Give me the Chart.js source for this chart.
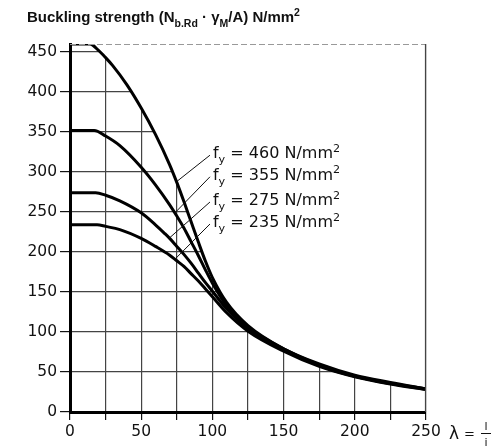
<!DOCTYPE html>
<html>
<head>
<meta charset="utf-8">
<script src="https://cdn.jsdelivr.net/npm/chart.js@4.4.0/dist/chart.umd.min.js"></script>
<style>
  html, body { margin: 0; padding: 0; background: #fff; }
</style>
</head>
<body>
<canvas id="chart" width="496" height="447"></canvas>
<script>
// Values: slenderness lambda -> buckling strength (N/mm2)
const lam460 = [0, 14, 20, 25, 30, 40, 50, 60, 70, 75, 80, 85, 90, 95, 100, 110, 125, 150, 175, 200, 225, 250];
const str460 = [460, 460, 452, 443, 433, 409, 380, 347, 309, 287, 263, 238, 213, 189, 168, 137, 108, 79, 60, 46, 37, 29];

const lam355 = [0, 17, 25, 35, 50, 60, 70, 75, 80, 85, 90, 95, 100, 110, 125, 150, 175, 200, 225, 250];
const str355 = [352, 352, 345, 333, 306, 284, 259, 245, 230, 213, 196, 178, 161, 133, 106, 79, 59, 45, 36, 29];

const lam275 = [0, 18, 25, 35, 50, 60, 66, 70, 75, 80, 85, 90, 95, 100, 110, 125, 150, 175, 200, 225, 250];
const str275 = [274, 274, 271, 264, 249, 234, 224, 217, 207, 197, 186, 174, 162, 151, 129, 104, 77.5, 58, 44.5, 35.5, 28.5];

const lam235 = [0, 19, 25, 35, 50, 60, 70, 75, 80, 85, 90, 95, 100, 110, 125, 150, 175, 200, 225, 250];
const str235 = [234, 234, 232, 228, 217, 207, 196, 189, 182, 173, 164, 154, 144, 124, 101, 76, 57, 44, 35, 28];

const steelGrades = ["460", "355", "275", "235"];
const xTicks = [0, 25, 50, 75, 100, 125, 150, 175, 200, 225, 250];
const yTicks = [0, 50, 100, 150, 200, 250, 300, 350, 400, 450];

// leader lines for the fy labels: [lambda, strength] start (at text) and end (on curve)
const leaderFrom = [[98.3, 321], [98.3, 294], [98.3, 262.5], [98.3, 235]];
const leaderTo = [[74.9, 288], [73.7, 249], [69.5, 217], [73.7, 191]];

const FONT = "'DejaVu Sans', sans-serif";
const TITLE_FONT = "'Liberation Sans', Arial, sans-serif";

function pts(xs, ys) {
  return xs.map((x, i) => ({ x: x, y: ys[i] }));
}

function curve(label, xs, ys, extra) {
  return Object.assign({
    label: label,
    data: pts(xs, ys),
    borderColor: "#000",
    borderWidth: 3,
    pointRadius: 0,
    cubicInterpolationMode: "monotone",
    fill: false
  }, extra || {});
}

// draw text with sub/superscript parts: [text, mode] mode: 0 normal, 1 sub, 2 sup
function drawRich(ctx, parts, x, y, size, weight, family) {
  parts.forEach(p => {
    let s = size, dy = 0;
    if (p[1] === 1) { s = size * 0.7; dy = size * 0.3; }
    if (p[1] === 2) { s = size * 0.7; dy = -size * 0.4; }
    ctx.font = (weight || "normal") + " " + s + "px " + (family || FONT);
    ctx.fillText(p[0], x, y + dy);
    x += ctx.measureText(p[0]).width;
  });
}

const extras = {
  id: "extras",
  afterDatasetsDraw(chart) {
    const ctx = chart.ctx, xs = chart.scales.x, ys = chart.scales.y;
    const a = chart.chartArea;
    ctx.save();
    // top dashed border and right grid line (covered by the white fill)
    ctx.strokeStyle = "#999";
    ctx.lineWidth = 1;
    ctx.setLineDash([6, 3]);
    ctx.beginPath();
    ctx.moveTo(a.left, a.top + 0.5);
    ctx.lineTo(a.right, a.top + 0.5);
    ctx.stroke();
    ctx.setLineDash([]);
    ctx.strokeStyle = "#444";
    ctx.lineWidth = 1.2;
    ctx.beginPath();
    ctx.moveTo(a.right - 0.5, a.top);
    ctx.lineTo(a.right - 0.5, a.bottom);
    ctx.stroke();

    // leader lines
    ctx.strokeStyle = "#111";
    ctx.lineWidth = 1;
    leaderFrom.forEach((f, i) => {
      const t = leaderTo[i];
      ctx.beginPath();
      ctx.moveTo(xs.getPixelForValue(f[0]), ys.getPixelForValue(f[1]));
      ctx.lineTo(xs.getPixelForValue(t[0]), ys.getPixelForValue(t[1]));
      ctx.stroke();
    });

    // fy labels
    ctx.fillStyle = "#111";
    ctx.textBaseline = "alphabetic";
    ctx.textAlign = "left";
    steelGrades.forEach((g, i) => {
      const f = leaderFrom[i];
      const px = xs.getPixelForValue(f[0]) + 3;
      const py = ys.getPixelForValue(f[1]) + 3;
      drawRich(ctx, [["f", 0], ["y", 1], [" = " + g + " N/mm", 0], ["2", 2]], px, py, 16);
    });

    // title
    drawRich(ctx, [["Buckling strength (N", 0], ["b.Rd", 1], [" \u00b7 \u03b3", 0], ["M", 1],
      ["/A) N/mm", 0], ["2", 2]], 27, 22, 15, "bold", TITLE_FONT);

    // lambda = l / i
    const bx = xs.getPixelForValue(250);
    ctx.font = "17px " + FONT;
    ctx.fillText("\u03bb", bx + 23, 439);
    ctx.font = "13px " + FONT;
    ctx.fillText("=", bx + 38, 438);
    ctx.font = "11px " + FONT;
    ctx.textAlign = "center";
    ctx.fillText("l", bx + 60, 430);
    ctx.fillText("i", bx + 60, 446);
    ctx.beginPath();
    ctx.moveTo(bx + 55, 433.5);
    ctx.lineTo(bx + 65, 433.5);
    ctx.stroke();
    ctx.restore();
  }
};

new Chart(document.getElementById("chart"), {
  type: "line",
  data: {
    datasets: [
      curve("fy = 460", lam460, str460, { fill: "end", backgroundColor: "#fff" }),
      curve("fy = 355", lam355, str355),
      curve("fy = 275", lam275, str275),
      curve("fy = 235", lam235, str235)
    ]
  },
  options: {
    responsive: false,
    animation: false,
    layout: { padding: { top: 44, right: 70, left: 0, bottom: 0 } },
    plugins: {
      legend: { display: false },
      tooltip: { enabled: false },
      filler: { drawTime: "beforeDatasetsDraw" }
    },
    scales: {
      x: {
        type: "linear",
        min: 0,
        max: 250,
        afterBuildTicks: s => { s.ticks = xTicks.map(v => ({ value: v })); },
        afterFit: s => { s.height = 35; },
        ticks: {
          autoSkip: false,
          maxRotation: 0,
          padding: 3,
          color: "#111",
          font: { family: FONT, size: 15.5 },
          callback: v => (v % 50 === 0 ? String(v) : "")
        },
        grid: { color: "#444", lineWidth: 1.2, tickLength: 8, tickColor: "#111" },
        border: { color: "#000", width: 3 }
      },
      y: {
        type: "linear",
        min: 0,
        max: 460,
        afterBuildTicks: s => { s.ticks = yTicks.map(v => ({ value: v })); },
        afterFit: s => { s.width = 70; },
        ticks: {
          padding: 3,
          color: "#111",
          font: { family: FONT, size: 15.5 }
        },
        grid: { color: "#444", lineWidth: 1.2, tickLength: 10, tickColor: "#111" },
        border: { color: "#000", width: 3 }
      }
    }
  },
  plugins: [extras]
});
</script>
</body>
</html>
